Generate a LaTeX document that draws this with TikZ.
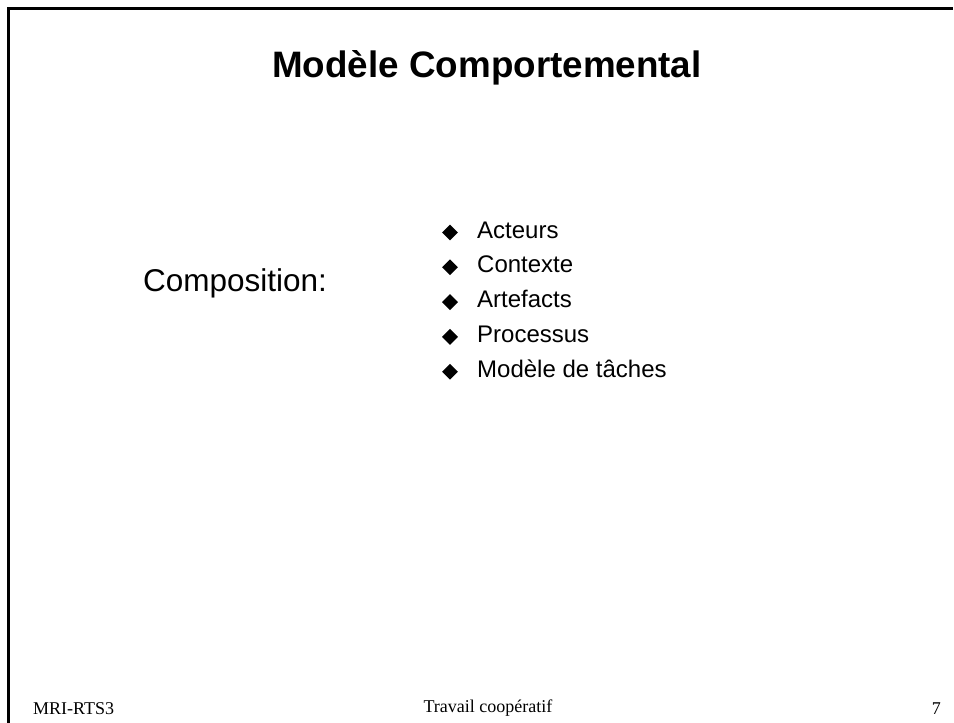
\documentclass[tikz,border=0pt]{standalone}
\usepackage{fontspec}
\setmainfont{Liberation Serif}
\newfontfamily\arialfont{Liberation Sans}
\usetikzlibrary{shapes.geometric}

\tikzset{
  titletext/.style={anchor=base,inner sep=0pt,font=\arialfont\bfseries\fontsize{36.8}{40}\selectfont},
  bodytext/.style={anchor=base west,inner sep=0pt,font=\arialfont\fontsize{24}{28}\selectfont},
  bigtext/.style={anchor=base west,inner sep=0pt,font=\arialfont\fontsize{31.5}{36}\selectfont},
  foottext/.style={inner sep=0pt,font=\fontsize{18}{22}\selectfont},
  bulletmark/.style={diamond,fill=black,draw=none,inner sep=0pt,minimum width=16pt,minimum height=16pt}
}

\begin{document}
\begin{tikzpicture}[x=1pt,y=1pt,yscale=-1,xscale=1]
\useasboundingbox (0,0) rectangle (954,723);

%Frame
\draw [line width=3pt]  (8.3,723) -- (8.3,8) -- (953,8) ;

% Text Node
\node [titletext] (title) at (487,77) {Modèle Comportemental};
% Text Node
\node [bigtext] (compo) at (143,291) {Composition:};

% Bullet list
\foreach \item [count=\i] in {Acteurs,Contexte,Artefacts,Processus,Modèle de tâches}{
  \node [bulletmark] (mark\i) at (450,{238+34.8*(\i-1)-5.5}) {};
  \node [bodytext] (item\i) at (477,{238+34.8*(\i-1)}) {\item};
}

% Text Node
\node [foottext,anchor=base west] (left) at (33,714) {MRI-RTS3};
% Text Node
\node [foottext,anchor=base] (middle) at (488,712) {Travail coopératif};
% Text Node
\node [foottext,anchor=base east] (page) at (941,714) {7};

\end{tikzpicture}
\end{document}
